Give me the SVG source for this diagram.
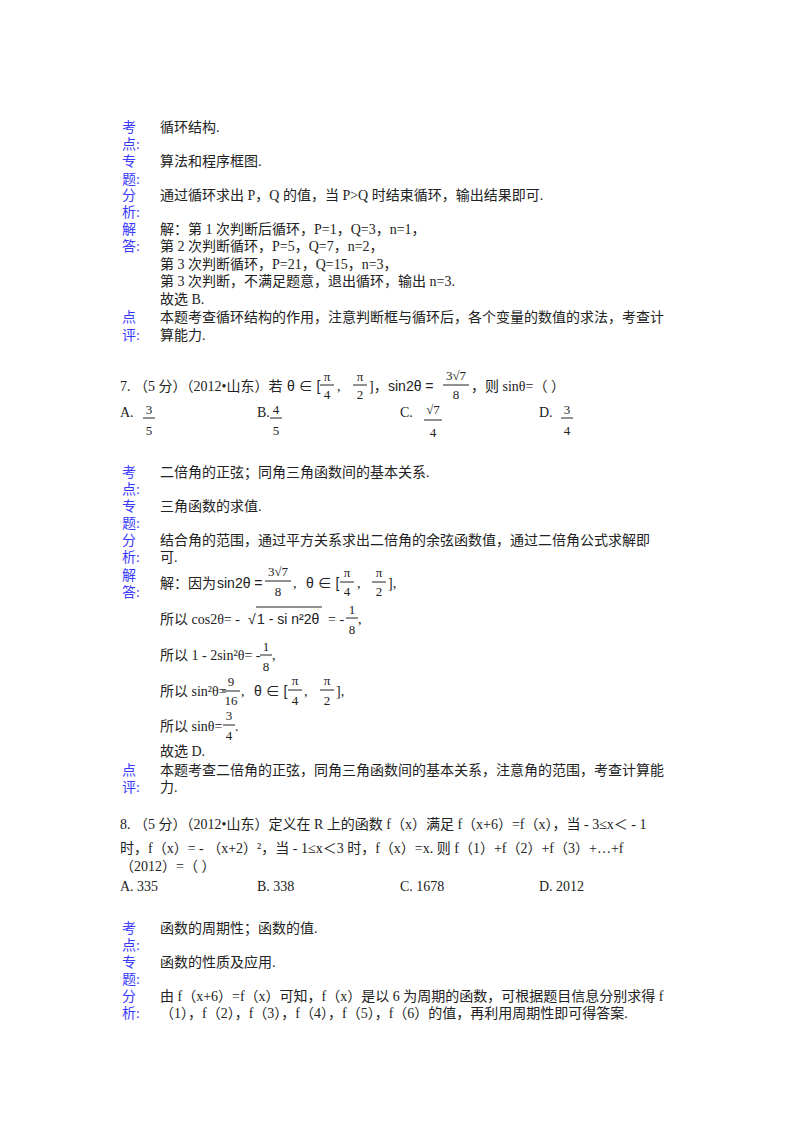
<svg xmlns="http://www.w3.org/2000/svg" width="800" height="1132" viewBox="0 0 800 1132">
<style>
text{font-family:"Liberation Serif","Noto Sans CJK SC",serif;font-size:14px;fill:#222}
.l{fill:#3a3aff}
.m{font-family:"Liberation Sans","Noto Sans CJK SC",sans-serif;font-size:14px}
.f{font-size:13px;text-anchor:middle}
line{stroke:#222;stroke-width:1}
</style>
<rect width="800" height="1132" fill="#fff"/>
<g id="q6">
<text class="l" x="122" y="132">考</text><text class="l" x="122" y="149">点:</text>
<text x="160" y="132">循环结构.</text>
<text class="l" x="122" y="166">专</text><text class="l" x="122" y="184">题:</text>
<text x="160" y="166">算法和程序框图.</text>
<text class="l" x="122" y="200">分</text><text class="l" x="122" y="217">析:</text>
<text x="160" y="200">通过循环求出 P，Q 的值，当 P&gt;Q 时结束循环，输出结果即可.</text>
<text class="l" x="122" y="234">解</text><text class="l" x="122" y="251">答:</text>
<text x="160" y="234">解：第 1 次判断后循环，P=1，Q=3，n=1，</text>
<text x="160" y="251">第 2 次判断循环，P=5，Q=7，n=2，</text>
<text x="160" y="269">第 3 次判断循环，P=21，Q=15，n=3，</text>
<text x="160" y="286">第 3 次判断，不满足题意，退出循环，输出 n=3.</text>
<text x="160" y="304">故选 B.</text>
<text class="l" x="122" y="322">点</text><text class="l" x="122" y="340">评:</text>
<text x="160" y="322">本题考查循环结构的作用，注意判断框与循环后，各个变量的数值的求法，考查计</text>
<text x="160" y="340">算能力.</text>
</g>
<g id="q7">
<text x="120" y="391">7. （5 分）（2012•山东）若</text>
<text x="287" y="391" class="m">θ ∈ [</text>
<text class="f" x="327" y="381">π</text><line x1="320" y1="385" x2="334" y2="385"/><text class="f" x="327" y="399">4</text>
<text x="337" y="391">,</text>
<text class="f" x="360" y="381">π</text><line x1="353" y1="385" x2="367" y2="385"/><text class="f" x="360" y="399">2</text>
<text x="369" y="391">]，</text>
<text class="m" x="388" y="391">sin2θ =</text>
<text class="f" x="456" y="380">3√7</text><line x1="443" y1="385" x2="469" y2="385"/><text class="f" x="456" y="399">8</text>
<text x="471" y="391">，则 sinθ=（        ）</text>
<text x="120" y="417">A.</text><text class="f" x="149" y="414">3</text><line x1="143" y1="418" x2="155" y2="418"/><text class="f" x="149" y="435">5</text>
<text x="257" y="417">B.</text><text class="f" x="276" y="414">4</text><line x1="270" y1="418" x2="282" y2="418"/><text class="f" x="276" y="435">5</text>
<text x="400" y="417">C.</text>
<text class="f" x="433" y="414">√7</text><line x1="424" y1="420" x2="442" y2="420"/><text class="f" x="433" y="437">4</text>
<text x="539" y="417">D.</text><text class="f" x="567" y="414">3</text><line x1="561" y1="418" x2="573" y2="418"/><text class="f" x="567" y="435">4</text>
</g>
<g id="q7s">
<text class="l" x="122" y="477">考</text><text class="l" x="122" y="494">点:</text>
<text x="160" y="477">二倍角的正弦；同角三角函数间的基本关系.</text>
<text class="l" x="122" y="511">专</text><text class="l" x="122" y="528">题:</text>
<text x="160" y="511">三角函数的求值.</text>
<text class="l" x="122" y="545">分</text><text class="l" x="122" y="562">析:</text>
<text x="160" y="545">结合角的范围，通过平方关系求出二倍角的余弦函数值，通过二倍角公式求解即</text>
<text x="160" y="562">可.</text>
<text class="l" x="122" y="580">解</text><text class="l" x="122" y="597">答:</text>
<text x="160" y="588">解：因为</text><text class="m" x="217" y="588">sin2θ =</text>
<text class="f" x="278" y="576">3√7</text><line x1="265" y1="581" x2="291" y2="581"/><text class="f" x="278" y="596">8</text>
<text x="293" y="588">,</text><text class="m" x="306" y="588">θ ∈ [</text>
<text class="f" x="347" y="577">π</text><line x1="340" y1="582" x2="354" y2="582"/><text class="f" x="347" y="596">4</text>
<text x="357" y="588">,</text>
<text class="f" x="379" y="577">π</text><line x1="372" y1="582" x2="386" y2="582"/><text class="f" x="379" y="596">2</text>
<text x="388" y="588">],</text>
<text x="160" y="624">所以 cos2θ= -</text><text class="m" x="248" y="624">√</text>
<line x1="256" y1="607" x2="322" y2="607"/><text class="m" x="257" y="624">1 - si n²2θ</text><text x="328" y="624">= -</text>
<text class="f" x="352" y="614">1</text><line x1="346" y1="618" x2="358" y2="618"/><text class="f" x="352" y="634">8</text><text x="358" y="624">,</text>
<text x="160" y="660">所以 1 - 2sin²θ= -</text>
<text class="f" x="266" y="651">1</text><line x1="260" y1="655" x2="272" y2="655"/><text class="f" x="266" y="671">8</text><text x="272" y="660">,</text>
<text x="160" y="696">所以 sin²θ=</text>
<text class="f" x="231" y="686">9</text><line x1="222" y1="691" x2="240" y2="691"/><text class="f" x="231" y="705">16</text><text x="241" y="696">,</text>
<text class="m" x="254" y="696">θ ∈ [</text>
<text class="f" x="295" y="685">π</text><line x1="288" y1="690" x2="302" y2="690"/><text class="f" x="295" y="705">4</text><text x="304" y="696">,</text>
<text class="f" x="327" y="685">π</text><line x1="320" y1="690" x2="334" y2="690"/><text class="f" x="327" y="705">2</text><text x="336" y="696">],</text>
<text x="160" y="731">所以 sinθ=</text>
<text class="f" x="229" y="720">3</text><line x1="223" y1="725" x2="235" y2="725"/><text class="f" x="229" y="740">4</text><text x="235" y="731">.</text>
<text x="160" y="756">故选 D.</text>
<text class="l" x="122" y="775">点</text><text class="l" x="122" y="792">评:</text>
<text x="160" y="775">本题考查二倍角的正弦，同角三角函数间的基本关系，注意角的范围，考查计算能</text>
<text x="160" y="792">力.</text>
</g>
<g id="q8">
<text x="120" y="829">8. （5 分）（2012•山东）定义在 R 上的函数 f（x）满足 f（x+6）=f（x），当 - 3≤x＜ - 1</text>
<text x="120" y="853">时，f（x）= - （x+2）²，当 - 1≤x＜3 时，f（x）=x. 则 f（1）+f（2）+f（3）+…+f</text>
<text x="120" y="871">（2012）=（        ）</text>
<text x="120" y="891">A. 335</text><text x="257" y="891">B. 338</text><text x="400" y="891">C. 1678</text><text x="539" y="891">D. 2012</text>
<text class="l" x="122" y="933">考</text><text class="l" x="122" y="950">点:</text>
<text x="160" y="933">函数的周期性；函数的值.</text>
<text class="l" x="122" y="967">专</text><text class="l" x="122" y="984">题:</text>
<text x="160" y="967">函数的性质及应用.</text>
<text class="l" x="122" y="1001">分</text><text class="l" x="122" y="1018">析:</text>
<text x="160" y="1001">由 f（x+6）=f（x）可知，f（x）是以 6 为周期的函数，可根据题目信息分别求得 f</text>
<text x="160" y="1018">（1），f（2），f（3），f（4），f（5），f（6）的值，再利用周期性即可得答案.</text>
</g>
</svg>
